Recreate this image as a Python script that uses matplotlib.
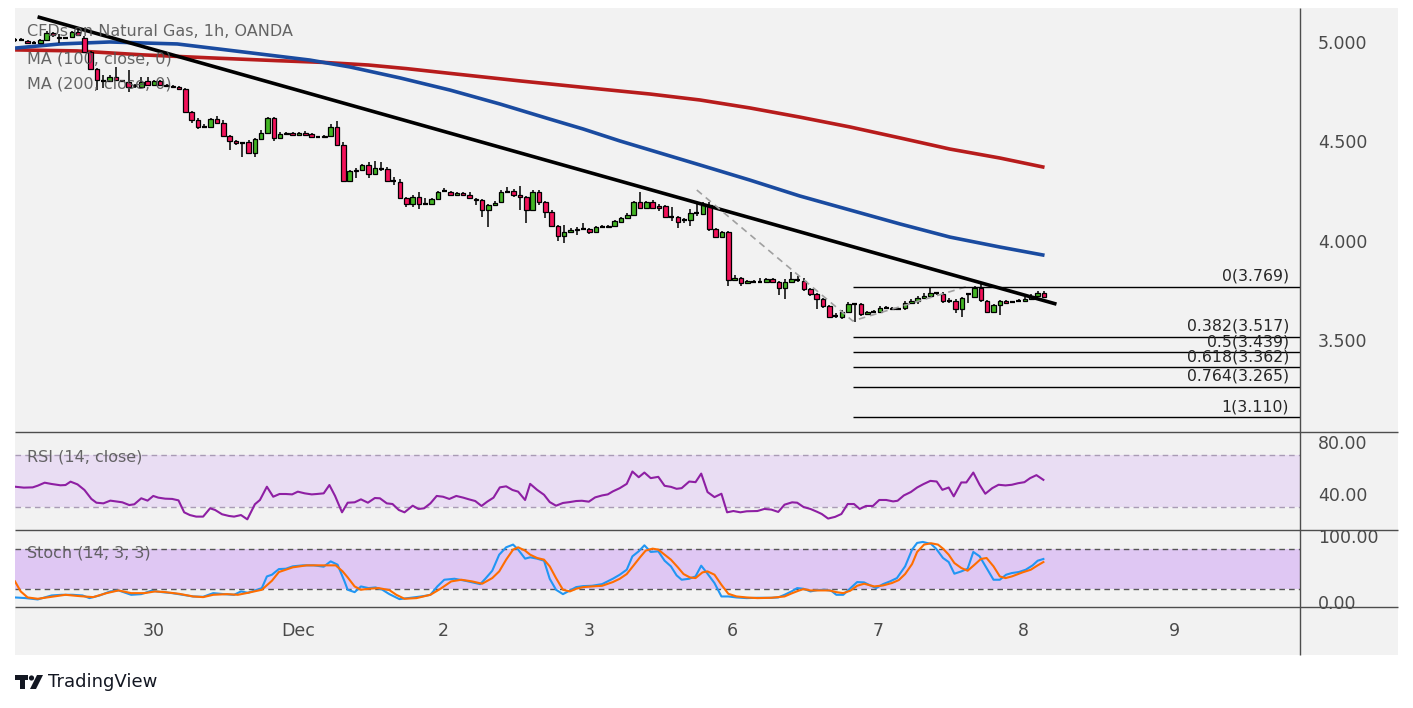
import matplotlib.pyplot as plt
from matplotlib.patches import Rectangle, Polygon, Circle

# ---- hourly candles (index = bar number) ----
opens = [5.010, 5.010, 5.005, 4.995, 4.995, 5.010, 5.045, 5.025, 5.020, 5.025,
         5.050, 5.020, 4.950, 4.864, 4.804, 4.804, 4.824, 4.804, 4.799, 4.779,
         4.774, 4.804, 4.784, 4.804, 4.784, 4.779, 4.774, 4.764, 4.648, 4.607,
         4.572, 4.572, 4.612, 4.592, 4.527, 4.502, 4.492, 4.497, 4.441, 4.512,
         4.542, 4.617, 4.517, 4.537, 4.542, 4.532, 4.542, 4.537, 4.522, 4.522,
         4.527, 4.572, 4.482, 4.300, 4.351, 4.356, 4.381, 4.336, 4.361, 4.361,
         4.300, 4.295, 4.215, 4.185, 4.220, 4.185, 4.185, 4.210, 4.250, 4.245,
         4.230, 4.240, 4.230, 4.210, 4.205, 4.154, 4.180, 4.195, 4.245, 4.250,
         4.230, 4.220, 4.154, 4.245, 4.195, 4.144, 4.074, 4.023, 4.043, 4.054,
         4.059, 4.059, 4.043, 4.069, 4.069, 4.074, 4.094, 4.114, 4.129, 4.195,
         4.164, 4.195, 4.175, 4.175, 4.119, 4.119, 4.104, 4.104, 4.139, 4.134,
         4.180, 4.059, 4.018, 4.043, 3.802, 3.812, 3.787, 3.792, 3.792, 3.792,
         3.807, 3.792, 3.762, 3.792, 3.802, 3.797, 3.757, 3.732, 3.707, 3.671,
         3.621, 3.616, 3.641, 3.681, 3.681, 3.631, 3.641, 3.641, 3.661, 3.661,
         3.656, 3.661, 3.686, 3.696, 3.712, 3.722, 3.737, 3.732, 3.696, 3.696,
         3.656, 3.732, 3.717, 3.762, 3.696, 3.641, 3.676, 3.696, 3.691, 3.696,
         3.696, 3.707, 3.722, 3.737]
closes = [5.010, 5.008, 4.995, 4.995, 5.010, 5.045, 5.035, 5.020, 5.020, 5.050,
          5.035, 4.950, 4.864, 4.809, 4.804, 4.824, 4.809, 4.804, 4.774, 4.779,
          4.799, 4.784, 4.804, 4.784, 4.779, 4.774, 4.764, 4.648, 4.607, 4.572,
          4.572, 4.612, 4.592, 4.527, 4.502, 4.492, 4.492, 4.441, 4.512, 4.542,
          4.617, 4.517, 4.537, 4.542, 4.532, 4.542, 4.532, 4.522, 4.522, 4.527,
          4.572, 4.482, 4.300, 4.351, 4.356, 4.381, 4.336, 4.366, 4.361, 4.300,
          4.300, 4.215, 4.185, 4.220, 4.185, 4.185, 4.210, 4.245, 4.250, 4.230,
          4.240, 4.230, 4.215, 4.205, 4.154, 4.180, 4.190, 4.245, 4.245, 4.230,
          4.220, 4.154, 4.245, 4.195, 4.144, 4.074, 4.023, 4.043, 4.054, 4.059,
          4.059, 4.043, 4.069, 4.069, 4.074, 4.099, 4.114, 4.129, 4.195, 4.164,
          4.195, 4.164, 4.164, 4.119, 4.119, 4.094, 4.104, 4.139, 4.139, 4.180,
          4.059, 4.018, 4.043, 3.802, 3.812, 3.787, 3.797, 3.792, 3.792, 3.807,
          3.792, 3.762, 3.792, 3.807, 3.802, 3.757, 3.732, 3.707, 3.671, 3.616,
          3.621, 3.641, 3.681, 3.681, 3.631, 3.641, 3.641, 3.661, 3.661, 3.656,
          3.656, 3.686, 3.696, 3.712, 3.722, 3.737, 3.737, 3.696, 3.696, 3.656,
          3.712, 3.732, 3.762, 3.701, 3.641, 3.676, 3.696, 3.686, 3.691, 3.696,
          3.707, 3.722, 3.737, 3.717]
highs = [5.020, 5.018, 5.012, 5.005, 5.015, 5.055, 5.050, 5.040, 5.025, 5.055,
         5.060, 5.030, 4.955, 4.870, 4.834, 4.834, 4.874, 4.810, 4.860, 4.789,
         4.824, 4.824, 4.809, 4.809, 4.789, 4.784, 4.779, 4.769, 4.653, 4.617,
         4.587, 4.617, 4.627, 4.607, 4.532, 4.507, 4.497, 4.507, 4.517, 4.557,
         4.622, 4.622, 4.547, 4.547, 4.547, 4.547, 4.552, 4.542, 4.527, 4.532,
         4.587, 4.602, 4.497, 4.356, 4.366, 4.386, 4.396, 4.401, 4.396, 4.371,
         4.321, 4.310, 4.220, 4.230, 4.245, 4.215, 4.215, 4.250, 4.265, 4.250,
         4.245, 4.245, 4.245, 4.215, 4.210, 4.185, 4.200, 4.255, 4.270, 4.260,
         4.275, 4.225, 4.255, 4.255, 4.200, 4.154, 4.079, 4.079, 4.064, 4.069,
         4.089, 4.064, 4.074, 4.079, 4.079, 4.104, 4.119, 4.139, 4.200, 4.245,
         4.200, 4.205, 4.185, 4.180, 4.170, 4.124, 4.114, 4.159, 4.190, 4.195,
         4.195, 4.064, 4.048, 4.048, 3.827, 3.817, 3.802, 3.802, 3.812, 3.812,
         3.812, 3.797, 3.807, 3.842, 3.822, 3.812, 3.762, 3.737, 3.712, 3.676,
         3.636, 3.651, 3.691, 3.686, 3.686, 3.646, 3.651, 3.671, 3.671, 3.666,
         3.661, 3.696, 3.706, 3.722, 3.737, 3.767, 3.742, 3.742, 3.712, 3.706,
         3.717, 3.737, 3.772, 3.787, 3.701, 3.681, 3.701, 3.701, 3.696, 3.706,
         3.717, 3.732, 3.747, 3.747]
lows = [5.000, 5.003, 4.990, 4.990, 4.990, 5.005, 5.025, 4.995, 5.015, 5.020,
        5.030, 4.945, 4.860, 4.758, 4.769, 4.799, 4.804, 4.799, 4.748, 4.769,
        4.769, 4.779, 4.779, 4.779, 4.774, 4.769, 4.758, 4.643, 4.592, 4.562,
        4.567, 4.567, 4.587, 4.522, 4.456, 4.482, 4.421, 4.436, 4.421, 4.507,
        4.537, 4.502, 4.512, 4.532, 4.527, 4.527, 4.527, 4.517, 4.517, 4.517,
        4.522, 4.477, 4.295, 4.295, 4.316, 4.351, 4.316, 4.331, 4.351, 4.295,
        4.280, 4.210, 4.170, 4.170, 4.160, 4.183, 4.180, 4.205, 4.245, 4.225,
        4.225, 4.225, 4.210, 4.180, 4.119, 4.069, 4.175, 4.190, 4.240, 4.220,
        4.154, 4.089, 4.149, 4.180, 4.114, 4.069, 3.998, 3.988, 4.038, 4.028,
        4.054, 4.033, 4.038, 4.064, 4.069, 4.069, 4.089, 4.109, 4.124, 4.159,
        4.159, 4.159, 4.149, 4.114, 4.099, 4.064, 4.089, 4.074, 4.124, 4.129,
        4.049, 4.013, 4.013, 3.772, 3.797, 3.772, 3.782, 3.787, 3.787, 3.787,
        3.787, 3.727, 3.707, 3.787, 3.792, 3.747, 3.722, 3.656, 3.661, 3.610,
        3.610, 3.605, 3.636, 3.590, 3.621, 3.626, 3.636, 3.636, 3.656, 3.651,
        3.651, 3.651, 3.681, 3.681, 3.707, 3.717, 3.727, 3.686, 3.686, 3.636,
        3.616, 3.686, 3.712, 3.691, 3.636, 3.636, 3.626, 3.681, 3.686, 3.691,
        3.691, 3.702, 3.717, 3.712]

# moving averages, read at a few bars
ma100_x = [0.3, 7.1, 15.0, 25.7, 36.1, 46.7, 53.1, 61.0, 68.9, 76.8, 84.7, 90.0,
           95.8, 102.2, 108.5, 116.4, 124.3, 132.3, 140.2, 148.1, 156.0, 162.8]
ma100_y = [4.970, 4.990, 5.000, 4.990, 4.950, 4.909, 4.874, 4.819, 4.758, 4.688,
           4.612, 4.562, 4.502, 4.441, 4.381, 4.305, 4.225, 4.154, 4.084, 4.018,
           3.968, 3.928]
ma200_x = [0.3, 9.8, 20.3, 30.9, 41.5, 49.0, 56.0, 62.0, 68.9, 80.0, 92.7, 100.6,
           108.5, 116.4, 124.3, 132.3, 140.2, 148.1, 156.0, 162.8]
ma200_y = [4.960, 4.955, 4.935, 4.920, 4.906, 4.897, 4.884, 4.866, 4.842, 4.804,
           4.763, 4.738, 4.708, 4.668, 4.622, 4.572, 4.517, 4.461, 4.416, 4.371]

# drawings
trend_x = [3.85, 164.7]
trend_y = [5.124, 3.683]
fib_pts_x = [108.0, 132.7, 150.8]
fib_pts_y = [4.255, 3.596, 3.769]
fib_ratio = ['0', '0.382', '0.5', '0.618', '0.764', '1']
fib_level = [3.769, 3.517, 3.439, 3.362, 3.265, 3.110]

# RSI (14)
rsi_x = [0, 1.4, 2.8, 3.6, 4.7, 5.8, 7.2, 8.0, 8.8, 9.9, 11.0, 12.1, 12.9, 14.0,
         15.1, 16.2, 17.0, 18.1, 18.9, 20.0, 21.0, 21.9, 22.7, 23.8, 24.9, 25.9,
         26.8, 27.7, 28.7, 29.8, 30.9, 31.7, 32.8, 33.9, 34.7, 35.8, 36.8, 38.0,
         38.8, 39.9, 40.9, 41.9, 42.9, 43.9, 44.8, 45.9, 47.0, 47.8, 48.9, 49.8,
         50.7, 51.8, 52.7, 53.8, 54.8, 55.9, 57.0, 57.8, 58.9, 59.8, 60.8, 61.7,
         63.0, 63.9, 64.8, 65.8, 66.8, 67.8, 68.8, 69.9, 71.0, 71.9, 72.9, 73.9,
         74.8, 75.8, 76.8, 77.8, 78.8, 79.7, 80.8, 81.6, 82.7, 83.8, 84.7, 85.7,
         86.8, 87.9, 88.9, 89.8, 90.9, 91.9, 93.0, 93.9, 94.7, 95.8, 96.9, 97.8,
         98.8, 99.7, 100.7, 101.9, 102.9, 103.9, 104.8, 105.6, 106.8, 107.8, 108.7,
         109.7, 110.8, 111.9, 112.8, 113.8, 114.9, 115.9, 117.6, 118.7, 119.8,
         120.9, 121.9, 123.1, 123.9, 124.9, 126.0, 127.1, 127.8, 128.8, 129.9,
         130.9, 131.9, 132.9, 133.8, 134.8, 135.9, 136.9, 138.0, 139.1, 139.8,
         140.8, 141.9, 142.9, 143.9, 145.0, 146.0, 146.9, 147.9, 148.7, 149.9,
         150.7, 151.8, 152.8, 153.7, 154.8, 155.8, 156.9, 157.9, 158.9, 159.9,
         160.8, 161.8, 162.9]
rsi_v = [45.6, 44.9, 45.1, 46.4, 48.7, 47.7, 46.7, 46.9, 49.5, 47.4, 43.1, 36.2,
         33.3, 32.8, 34.9, 34.1, 33.6, 31.5, 32.1, 36.7, 34.9, 38.5, 37.2, 36.4,
         36.2, 35.1, 25.9, 23.8, 22.6, 22.6, 29.0, 27.7, 24.4, 23.1, 22.6, 23.8,
         20.5, 32.1, 35.4, 45.6, 37.9, 40.0, 40.0, 39.7, 41.8, 40.5, 39.7, 40.0,
         40.5, 46.9, 38.5, 25.9, 33.3, 33.6, 35.9, 33.3, 36.9, 36.7, 32.8, 32.3,
         27.7, 25.9, 31.0, 28.5, 29.0, 32.8, 38.5, 37.9, 36.2, 38.5, 37.2, 35.9,
         34.6, 30.8, 34.1, 37.2, 45.1, 45.9, 43.1, 41.8, 35.4, 47.8, 43.2, 39.4,
         33.8, 31.0, 33.1, 33.8, 34.6, 34.8, 34.1, 37.4, 38.9, 39.7, 42.0, 44.5,
         47.8, 57.3, 52.9, 56.5, 52.2, 53.2, 46.3, 45.5, 44.0, 44.5, 49.6, 49.1,
         55.7, 41.5, 37.6, 40.2, 25.9, 26.9, 25.9, 26.7, 26.9, 28.5, 28.0, 26.2,
         31.8, 33.6, 33.3, 30.0, 28.5, 26.2, 24.6, 21.1, 22.4, 24.6, 32.3, 32.3,
         28.5, 30.8, 30.8, 35.4, 35.4, 34.3, 34.8, 38.9, 41.5, 45.0, 47.6, 50.1,
         49.6, 43.2, 45.0, 38.2, 48.9, 48.9, 56.5, 47.1, 40.2, 44.5, 47.1, 46.6,
         47.1, 48.3, 49.1, 52.2, 54.5, 50.9]

# Stoch (14, 3, 3): %K and %D
k_x = [0, 1.7, 3.6, 5.8, 7.4, 9.1, 10.7, 11.8, 13.4, 15.1, 16.4, 18.4, 20.0, 21.6,
       23.3, 24.9, 26.5, 28.2, 29.8, 31.4, 33.1, 34.7, 35.8, 36.9, 38.3, 39.1,
       39.9, 40.7, 41.8, 42.9, 44.0, 45.6, 47.3, 48.9, 50.0, 51.1, 52.2, 52.7,
       53.8, 54.8, 56.0, 57.1, 58.2, 59.3, 60.9, 63.1, 64.7, 65.8, 66.9, 68.0,
       69.6, 71.3, 73.7, 74.5, 75.6, 76.7, 77.8, 78.9, 79.7, 80.8, 81.6, 82.7,
       83.8, 84.7, 85.7, 86.8, 87.9, 88.9, 90.0, 91.4, 93.0, 94.7, 95.8, 96.9,
       97.8, 98.8, 99.7, 100.7, 101.9, 102.9, 103.9, 104.8, 105.6, 106.8, 107.8,
       108.7, 109.7, 110.8, 111.9, 113.0, 114.3, 115.9, 117.6, 119.8, 120.9,
       121.9, 123.0, 123.9, 124.9, 126.0, 127.1, 128.2, 129.3, 130.1, 131.2,
       132.6, 133.4, 134.5, 135.6, 136.4, 137.5, 138.6, 139.7, 141.0, 142.1,
       142.9, 143.8, 145.1, 145.9, 147.0, 147.9, 148.8, 149.9, 150.9, 151.8,
       152.8, 153.9, 155.0, 156.0, 157.0, 157.9, 159.0, 160.1, 161.2, 162.0, 162.9]
k_v = [6.9, 5.9, 3.9, 9.9, 10.9, 10.9, 9.9, 5.9, 9.9, 16.0, 17.5, 10.9, 11.9, 17.0,
       14.9, 13.4, 10.9, 8.4, 7.9, 13.4, 11.9, 10.9, 16.0, 13.9, 18.5, 21.0, 38.6,
       41.2, 49.7, 50.2, 53.8, 55.3, 55.3, 53.3, 61.3, 56.3, 31.1, 18.5, 14.9,
       23.5, 21.0, 22.0, 18.5, 11.9, 4.4, 6.9, 8.9, 10.9, 23.5, 33.6, 35.1, 32.1,
       27.0, 35.1, 47.2, 71.4, 82.5, 86.6, 79.0, 65.4, 67.4, 65.4, 62.3, 35.1,
       18.5, 11.9, 17.5, 22.5, 24.0, 24.5, 27.0, 35.1, 41.2, 48.7, 68.9, 76.5,
       85.5, 75.5, 76.5, 62.3, 53.8, 40.2, 33.6, 35.1, 38.6, 54.8, 42.7, 28.6,
       8.4, 8.4, 6.9, 5.9, 6.4, 6.4, 6.9, 10.9, 16.0, 21.0, 20.0, 16.0, 18.0, 18.5,
       17.0, 10.9, 10.9, 23.0, 30.1, 29.6, 24.5, 21.0, 27.0, 31.1, 36.1, 53.8,
       79.0, 89.1, 90.6, 87.6, 80.5, 66.4, 60.3, 42.7, 46.2, 50.2, 75.5, 68.9,
       51.3, 33.6, 33.6, 41.2, 43.7, 45.2, 48.7, 55.3, 62.3, 64.9]
d_x = [0, 0.9, 2.0, 3.6, 5.8, 8.0, 10.2, 12.4, 14.5, 16.4, 18.4, 20.5, 22.2, 23.8,
       26.0, 28.2, 29.8, 31.4, 33.6, 35.3, 36.9, 39.1, 40.7, 41.8, 44.0, 46.2,
       48.4, 50.8, 51.9, 52.7, 53.8, 54.8, 56.0, 57.6, 59.3, 60.4, 61.7, 63.6,
       65.8, 67.4, 69.1, 70.7, 72.4, 74.0, 75.6, 76.7, 77.8, 78.9, 79.7, 80.8,
       81.6, 82.7, 83.8, 84.7, 85.7, 86.8, 87.9, 88.9, 90.0, 91.4, 93.0, 94.7,
       95.8, 96.9, 98.0, 99.0, 99.9, 101.0, 101.9, 102.9, 103.9, 105.0, 105.9,
       106.9, 107.8, 108.9, 109.7, 110.8, 111.9, 113.0, 114.3, 115.9, 117.6,
       119.8, 121.9, 123.0, 124.1, 124.9, 126.0, 127.4, 129.0, 130.1, 131.2,
       132.3, 133.4, 134.5, 136.1, 137.5, 138.9, 140.0, 141.0, 142.1, 142.9,
       144.0, 145.1, 146.2, 147.0, 147.9, 148.8, 149.9, 150.9, 152.0, 153.0,
       153.9, 155.0, 156.0, 156.9, 157.9, 159.6, 160.9, 162.0, 162.9]
d_v = [31.1, 16.0, 6.9, 4.9, 7.9, 10.9, 8.9, 7.4, 13.4, 17.5, 13.4, 13.4, 16.0,
       14.9, 12.4, 8.4, 7.4, 10.9, 11.9, 10.9, 13.9, 18.5, 32.1, 45.2, 52.3, 55.3,
       55.3, 55.3, 46.2, 37.1, 23.5, 18.5, 20.0, 21.0, 18.0, 10.9, 4.9, 5.9, 10.9,
       20.0, 31.1, 33.6, 31.1, 27.6, 36.1, 46.2, 63.9, 79.0, 82.5, 77.5, 71.4,
       66.4, 63.9, 53.8, 36.1, 18.5, 16.0, 20.0, 22.5, 23.5, 24.5, 30.1, 35.1,
       42.2, 55.3, 67.4, 77.5, 80.5, 79.0, 71.4, 63.9, 52.3, 42.2, 37.1, 36.1,
       44.7, 46.2, 41.2, 26.0, 12.4, 8.4, 6.9, 5.9, 6.4, 8.4, 12.9, 17.0, 19.5,
       17.5, 17.5, 17.5, 14.9, 13.4, 17.0, 24.5, 27.6, 23.5, 25.0, 28.6, 33.1,
       42.2, 57.3, 75.5, 86.6, 88.6, 86.6, 80.5, 71.4, 58.8, 51.3, 47.2, 56.3,
       64.9, 66.4, 53.8, 38.6, 36.1, 38.6, 44.7, 48.7, 55.3, 60.3]

# time axis
day_pos = [21.9, 44.8, 67.8, 90.9, 113.7, 136.7, 159.7, 183.7]
day_lbl = ['30', 'Dec', '2', '3', '6', '7', '8', '9']

W, H = 1413, 708
GREEN = '#43B524'
PINK = '#F2125A'
TXT = '#4a4a4a'

fig = plt.figure(figsize=(W / 100, H / 100), dpi=100)

bg = fig.add_axes([0, 0, 1, 1])
bg.set_xlim(0, W)
bg.set_ylim(H, 0)
bg.axis('off')
bg.add_patch(Rectangle((15, 8), 1383, 647, color='#F2F2F2', lw=0))


def panel(top, bottom):
    a = fig.add_axes([15 / W, 1 - bottom / H, 1285 / W, (bottom - top) / H])
    a.set_facecolor('none')
    for s in a.spines.values():
        s.set_visible(False)
    a.set_xlim(0, 203.55)
    a.yaxis.tick_right()
    a.tick_params(axis='y', length=0, pad=13, labelsize=12.5, labelcolor=TXT)
    a.tick_params(axis='x', length=0)
    a.set_xticks([])
    return a


ax = panel(8, 432)
ax.set_ylim(3.037, 5.171)
ax.set_yticks([5.0, 4.5, 4.0, 3.5])
ax.set_yticklabels(['5.000', '4.500', '4.000', '3.500'])

# candles
for i in range(len(opens)):
    o, c, h, l = opens[i], closes[i], highs[i], lows[i]
    ax.vlines(i, l, h, color='black', lw=1.1, zorder=3)
    if abs(c - o) < 0.003:
        ax.hlines(o, i - 0.38, i + 0.38, color='black', lw=1.6, zorder=4)
    else:
        col = GREEN if c > o else PINK
        ax.add_patch(Rectangle((i - 0.36, min(o, c)), 0.72, abs(c - o),
                               facecolor=col, edgecolor='black', lw=0.9, zorder=4))

ax.plot(ma200_x, ma200_y, color='#B71C1C', lw=2.6, zorder=2)
ax.plot(ma100_x, ma100_y, color='#1A4BA0', lw=2.6, zorder=2)
ax.plot(trend_x, trend_y, color='black', lw=2.6, zorder=5)
ax.plot(fib_pts_x, fib_pts_y, color='#A0A0A0', lw=1.2, ls=(0, (4, 3)), zorder=5)
ax.hlines(fib_level, fib_pts_x[1], 203.55, color='black', lw=1.0, zorder=5)
for r, v in zip(fib_ratio, fib_level):
    ax.annotate(f'{r}({v:.3f})', xy=(1, v), xycoords=('axes fraction', 'data'),
                xytext=(-11, 10.5), textcoords='offset pixels', ha='right',
                va='center', fontsize=11.3, color='#262626', zorder=6)

# RSI
ax2 = panel(432, 530)
ax2.set_ylim(12.3, 87.7)
ax2.axhspan(30, 70, color='#E9DDF3', lw=0)
ax2.axhline(70, color='#A99BB5', lw=1, ls=(0, (4, 3)))
ax2.axhline(30, color='#A99BB5', lw=1, ls=(0, (4, 3)))
ax2.plot(rsi_x, rsi_v, color='#8E1FA3', lw=1.5)
ax2.set_yticks([80, 40])
ax2.set_yticklabels(['80.00', '40.00'])

# Stoch
ax3 = panel(530, 607)
ax3.set_ylim(-7.5, 108.6)
ax3.axhspan(20, 80, color='#DFC7F3', lw=0)
ax3.axhline(80, color='#555555', lw=1, ls=(0, (4, 3)))
ax3.axhline(20, color='#555555', lw=1, ls=(0, (4, 3)))
ax3.plot(k_x, k_v, color='#2196F3', lw=1.5)
ax3.plot(d_x, d_v, color='#FF6D00', lw=1.5)
ax3.set_yticks([100, 0])
ax3.set_yticklabels(['100.00', '0.00'])
ax3.set_xticks(day_pos)
ax3.set_xticklabels(day_lbl)
ax3.tick_params(axis='x', pad=11, labelsize=12.5, labelcolor=TXT)

# overlay: separators, legends, logo
ov = fig.add_axes([0, 0, 1, 1])
ov.set_xlim(0, W)
ov.set_ylim(H, 0)
ov.axis('off')
ov.set_facecolor('none')
ov.hlines([432, 530, 607], 15, 1398, color='#4d4d4d', lw=1)
ov.vlines(1300, 8, 655, color='#4d4d4d', lw=1)

leg = dict(fontsize=11.5, color='#555555', va='center', alpha=0.9)
ov.text(27, 32, 'CFDs on Natural Gas, 1h, OANDA', **leg)
ov.text(27, 59, 'MA (100, close, 0)', **leg)
ov.text(27, 84, 'MA (200, close, 0)', **leg)
ov.text(27, 457, 'RSI (14, close)', **leg)
ov.text(27, 553, 'Stoch (14, 3, 3)', **leg)

ov.add_patch(Polygon([(15, 675), (28, 675), (28, 680), (25, 680), (25, 689),
                      (20, 689), (20, 680), (15, 680)], color='#131722', lw=0))
ov.add_patch(Circle((31.5, 678), 2.6, color='#131722', lw=0))
ov.add_patch(Polygon([(37, 675), (43, 675), (36, 689), (30, 689)], color='#131722', lw=0))
ov.text(48, 682, 'TradingView', fontsize=13, color='#131722', va='center')

fig.savefig('out.png', dpi=100)
